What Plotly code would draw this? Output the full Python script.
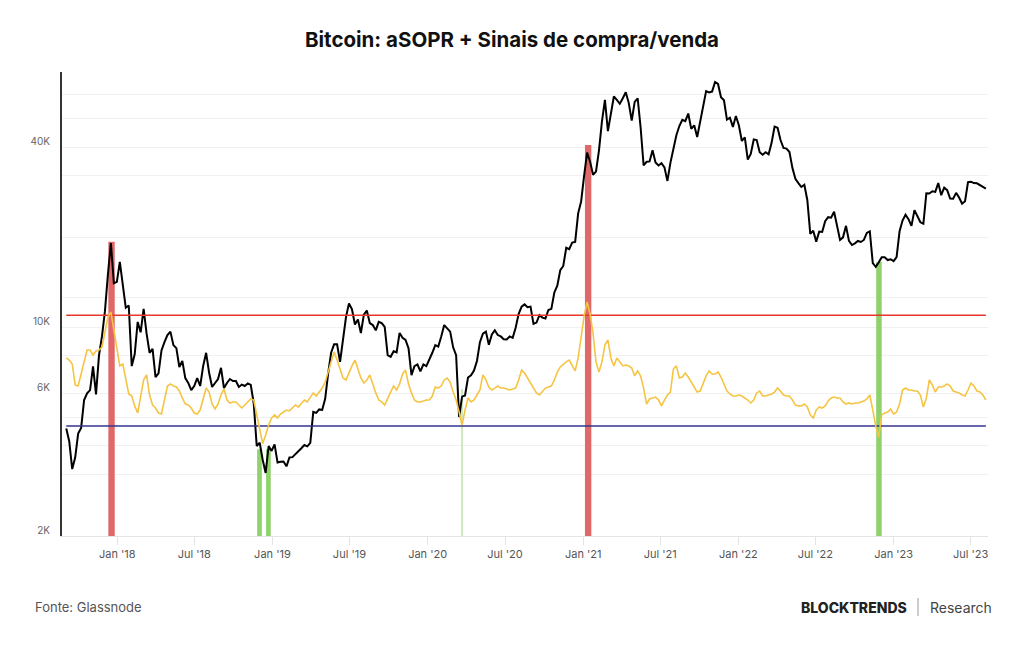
import math
import pandas as pd
import plotly.graph_objects as go

# ---------------- data (weekly, Sundays from 2017-09-03) ----------------
price_2017 = [4580, 4150, 3350, 3660, 4400, 4600, 5700, 6000, 6150, 7380,
              5950, 8040, 9300, 11300, 15000, 19100, 14000, 14150]
price_2018 = [16500, 13600, 11600, 11800, 7400, 8100, 10400, 9600, 11500, 9500,
              8200, 8450, 6800, 7000, 8350, 8900, 9400, 9650, 8700, 8500,
              7350, 7700, 6750, 6500, 6150, 6350, 6750, 6350, 7400, 8200,
              7030, 6300, 6500, 6700, 7300, 6250, 6500, 6700, 6600, 6600,
              6300, 6420, 6350, 6480, 6400, 5550, 4000, 4100, 3600, 3250,
              4000, 3850]
price_2019 = [4050, 3520, 3540, 3550, 3420, 3660, 3670, 3750, 3820, 3930,
              4030, 3990, 4100, 5200, 5160, 5300, 5280, 5750, 7000, 8200,
              8750, 8750, 7650, 8950, 10800, 12000, 11450, 10200, 10600, 9550,
              11000, 11350, 10300, 10150, 9750, 10400, 10300, 10000, 8050, 7950,
              8300, 8230, 9550, 9200, 9050, 8500, 6900, 7400, 7500, 7100,
              7500, 7400]
price_2020 = [7750, 8200, 8700, 8600, 9300, 10150, 9900, 9650, 8550, 8050,
              5000, 5850, 5900, 6780, 6900, 7150, 7700, 8900, 9500, 9650,
              8720, 9450, 9750, 9400, 9300, 9100, 9080, 9300, 9200, 9950,
              11050, 11700, 11900, 11650, 11700, 10250, 10350, 10950, 10750, 10680,
              11400, 11500, 13050, 13750, 15500, 16000, 18400, 18200, 19150, 19250,
              24000, 26300]
price_2021 = [32000, 38300, 35800, 32300, 33100, 39000, 48700, 57500, 45200, 51000,
              59000, 57500, 55800, 58200, 61000, 56200, 49000, 56600, 58200, 46400,
              34700, 35700, 35800, 39000, 35500, 34700, 35300, 34200, 30800, 35400,
              39900, 43800, 47000, 49300, 48800, 51750, 46000, 47250, 43200, 48200,
              54950, 61500, 60900, 61300, 66000, 65000, 58700, 57300, 49400, 50100,
              46700, 50800]
price_2022 = [47300, 41900, 43100, 36300, 37900, 42400, 42200, 38400, 37700, 38400,
              37800, 41300, 46800, 46400, 42200, 39700, 39500, 38500, 34000, 31300,
              30300, 29400, 29900, 26600, 20500, 21000, 19300, 20850, 20800, 22600,
              23300, 23200, 24300, 21500, 19550, 19950, 21800, 19400, 18800, 19050,
              19400, 19250, 19550, 20650, 20900, 16350, 15900, 16450, 17100, 17100,
              16750, 16850]
price_2023 = [16600, 17130, 20900, 22700, 23750, 22950, 21800, 24600, 23500, 22400,
              22150, 28000, 27950, 28450, 28300, 30300, 27600, 29250, 28700, 26900,
              26850, 28100, 27100, 25850, 26350, 30500, 30600, 30300, 30250, 29800,
              29300, 29050]
price = price_2017 + price_2018 + price_2019 + price_2020 + price_2021 + price_2022 + price_2023

asopr = [1.0461, 1.0447, 1.0420, 1.0278, 1.0271, 1.0359, 1.0434, 1.0515, 1.0515, 1.0481,
         1.0508, 1.0515, 1.0535, 1.0637, 1.0738, 1.0772, 1.0644, 1.0515, 1.0407, 1.0420,
         1.0325, 1.0217, 1.0203, 1.0136, 1.0088, 1.0210, 1.0312, 1.0346, 1.0210, 1.0142,
         1.0122, 1.0088, 1.0081, 1.0176, 1.0271, 1.0285, 1.0271, 1.0264, 1.0237, 1.0190,
         1.0149, 1.0142, 1.0122, 1.0088, 1.0081, 1.0108, 1.0190, 1.0257, 1.0230, 1.0149,
         1.0115, 1.0149, 1.0210, 1.0251, 1.0176, 1.0156, 1.0163, 1.0163, 1.0142, 1.0122,
         1.0142, 1.0163, 1.0183, 1.0176, 1.0081, 0.9973, 0.9880, 0.9939, 1.0007, 1.0054,
         1.0075, 1.0054, 1.0081, 1.0095, 1.0108, 1.0102, 1.0122, 1.0142, 1.0129, 1.0149,
         1.0176, 1.0163, 1.0190, 1.0224, 1.0203, 1.0230, 1.0257, 1.0298, 1.0366, 1.0434,
         1.0501, 1.0447, 1.0379, 1.0325, 1.0312, 1.0366, 1.0407, 1.0447, 1.0393, 1.0325,
         1.0291, 1.0312, 1.0346, 1.0278, 1.0224, 1.0176, 1.0163, 1.0142, 1.0190, 1.0230,
         1.0271, 1.0244, 1.0285, 1.0352, 1.0379, 1.0285, 1.0224, 1.0176, 1.0163, 1.0163,
         1.0169, 1.0176, 1.0176, 1.0203, 1.0264, 1.0257, 1.0271, 1.0312, 1.0325, 1.0298,
         1.0230, 1.0176, 1.0095, 1.0007, 1.0108, 1.0190, 1.0163, 1.0176, 1.0210, 1.0244,
         1.0346, 1.0312, 1.0264, 1.0244, 1.0257, 1.0271, 1.0257, 1.0257, 1.0251, 1.0244,
         1.0251, 1.0257, 1.0312, 1.0379, 1.0359, 1.0325, 1.0291, 1.0257, 1.0224, 1.0210,
         1.0237, 1.0257, 1.0264, 1.0271, 1.0312, 1.0366, 1.0400, 1.0420, 1.0434, 1.0447,
         1.0413, 1.0373, 1.0461, 1.0617, 1.0745, 1.0840, 1.0759, 1.0630, 1.0434, 1.0366,
         1.0434, 1.0549, 1.0583, 1.0461, 1.0407, 1.0461, 1.0434, 1.0407, 1.0413, 1.0407,
         1.0393, 1.0339, 1.0373, 1.0339, 1.0257, 1.0149, 1.0183, 1.0190, 1.0196, 1.0176,
         1.0136, 1.0176, 1.0210, 1.0230, 1.0386, 1.0407, 1.0325, 1.0332, 1.0359, 1.0332,
         1.0298, 1.0257, 1.0230, 1.0237, 1.0291, 1.0339, 1.0373, 1.0352, 1.0352, 1.0366,
         1.0332, 1.0278, 1.0237, 1.0217, 1.0203, 1.0203, 1.0210, 1.0203, 1.0190, 1.0176,
         1.0156, 1.0176, 1.0224, 1.0237, 1.0203, 1.0203, 1.0210, 1.0217, 1.0230, 1.0257,
         1.0237, 1.0210, 1.0203, 1.0203, 1.0176, 1.0142, 1.0136, 1.0136, 1.0149, 1.0129,
         1.0075, 1.0054, 1.0108, 1.0129, 1.0122, 1.0136, 1.0169, 1.0190, 1.0196, 1.0190,
         1.0190, 1.0163, 1.0149, 1.0156, 1.0149, 1.0156, 1.0156, 1.0163, 1.0169, 1.0183,
         1.0210, 1.0108, 1.0000, 0.9925, 1.0075, 1.0088, 1.0095, 1.0115, 1.0081, 1.0095,
         1.0149, 1.0244, 1.0257, 1.0244, 1.0244, 1.0237, 1.0237, 1.0210, 1.0129, 1.0190,
         1.0312, 1.0278, 1.0230, 1.0264, 1.0264, 1.0271, 1.0285, 1.0271, 1.0237, 1.0230,
         1.0224, 1.0210, 1.0203, 1.0244, 1.0291, 1.0271, 1.0237, 1.0230, 1.0210, 1.0176]

n = min(len(price), len(asopr))
dates = pd.date_range("2017-09-03", periods=n, freq="7D")
price = price[:n]
asopr = asopr[:n]

sell_threshold = 1.075   # red line
buy_threshold = 1.0      # blue line

# buy / sell signal periods
sig_start = ["2017-12-11", "2018-11-26", "2018-12-17", "2020-03-20", "2021-01-05", "2022-11-21"]
sig_end   = ["2017-12-26", "2018-12-07", "2018-12-28", "2020-03-22", "2021-01-20", "2022-12-04"]
sig_top   = [19300, 3900, 3900, 6200, 40600, 16500]
sig_kind  = ["venda", "compra", "compra", "compra_fraca", "venda", "compra"]

x_tick_dates = ["2018-01-01", "2018-07-01", "2019-01-01", "2019-07-01", "2020-01-01", "2020-07-01",
                "2021-01-01", "2021-07-01", "2022-01-01", "2022-07-01", "2023-01-01", "2023-07-01"]
x_tick_text = ["Jan '18", "Jul '18", "Jan '19", "Jul '19", "Jan '20", "Jul '20",
               "Jan '21", "Jul '21", "Jan '22", "Jul '22", "Jan '23", "Jul '23"]
y_tick_vals = [2000, 3200, 4000, 5000, 6000, 8000, 10000, 12600, 20000, 32000, 40000, 50000, 60000]
y_tick_text = ["2K", "", "", "", "6K", "", "10K", "", "", "", "40K", "", ""]

# ---------------- figure ----------------
kind_color = {"venda": "#e06868", "compra": "#8fd26b", "compra_fraca": "#cfe9bf"}
s0 = pd.to_datetime(sig_start)
s1 = pd.to_datetime(sig_end)
centers = s0 + (s1 - s0) / 2
widths = [(b - a).total_seconds() * 1000 for a, b in zip(s0, s1)]

fig = go.Figure()
fig.add_trace(go.Bar(x=centers, y=sig_top, width=widths,
                     marker=dict(color=[kind_color[k] for k in sig_kind], line=dict(width=0)),
                     yaxis="y", hoverinfo="skip"))
fig.add_trace(go.Scatter(x=[dates[0], dates[-1]], y=[sell_threshold] * 2, yaxis="y2",
                         mode="lines", line=dict(color="#e8372c", width=1.6)))
fig.add_trace(go.Scatter(x=[dates[0], dates[-1]], y=[buy_threshold] * 2, yaxis="y2",
                         mode="lines", line=dict(color="#33358f", width=1.6)))
fig.add_trace(go.Scatter(x=dates, y=asopr, yaxis="y2", mode="lines",
                         line=dict(color="#f5c443", width=1.6), name="aSOPR"))
fig.add_trace(go.Scatter(x=dates, y=price, yaxis="y", mode="lines",
                         line=dict(color="#000000", width=2), name="BTC"))

font_family = "Inter, Roboto, sans-serif"
fig.update_layout(
    width=1024, height=645, autosize=False,
    margin=dict(l=62, r=36, t=72, b=109),
    paper_bgcolor="white", plot_bgcolor="white",
    showlegend=False, barmode="overlay",
    font=dict(family=font_family),
    title=dict(text="<b>Bitcoin: aSOPR + Sinais de compra/venda</b>",
               x=0.5, xref="container", xanchor="center",
               y=1 - 40 / 645, yref="container", yanchor="middle",
               font=dict(family=font_family, size=20.5, color="#111111")),
    xaxis=dict(type="date", range=["2017-08-24", "2023-08-11"],
               tickvals=x_tick_dates, ticktext=x_tick_text,
               showgrid=False, zeroline=False,
               showline=True, linecolor="#e4e4e4", linewidth=1,
               ticks="outside", ticklen=8, tickcolor="#e4e4e4",
               tickfont=dict(size=11, color="#555555")),
    yaxis=dict(type="log", range=[math.log10(2000), 4.8529],
               tickvals=y_tick_vals, ticktext=y_tick_text,
               showgrid=True, gridcolor="#f0f0f0", gridwidth=1,
               zeroline=False, showline=True, linecolor="#333333", linewidth=2,
               ticks="", ticklabelstandoff=8, ticklabelshift=-6,
               tickfont=dict(size=10, color="#666666")),
    yaxis2=dict(overlaying="y", range=[0.92547, 1.23984], visible=False),
)

fig.add_annotation(text="Fonte: Glassnode", xref="paper", yref="paper",
                   x=(33 - 62) / 926, y=(536 - 607) / 464, xanchor="left", yanchor="middle",
                   showarrow=False, font=dict(family=font_family, size=13, color="#555555"))
fig.add_annotation(text="BLOCKTRENDS", xref="paper", yref="paper",
                   x=(909 - 62) / 926, y=(536 - 607) / 464, xanchor="right", yanchor="middle",
                   showarrow=False, font=dict(family=font_family, size=14, color="#222222", weight=800))
fig.add_annotation(text="Research", xref="paper", yref="paper",
                   x=(928 - 62) / 926, y=(536 - 607) / 464, xanchor="left", yanchor="middle",
                   showarrow=False, font=dict(family=font_family, size=14, color="#444444"))
fig.add_shape(type="line", xref="paper", yref="paper",
              x0=(918 - 62) / 926, x1=(918 - 62) / 926,
              y0=(536 - 598) / 464, y1=(536 - 616) / 464,
              line=dict(color="#999999", width=1))

fig.write_html("out.html")
